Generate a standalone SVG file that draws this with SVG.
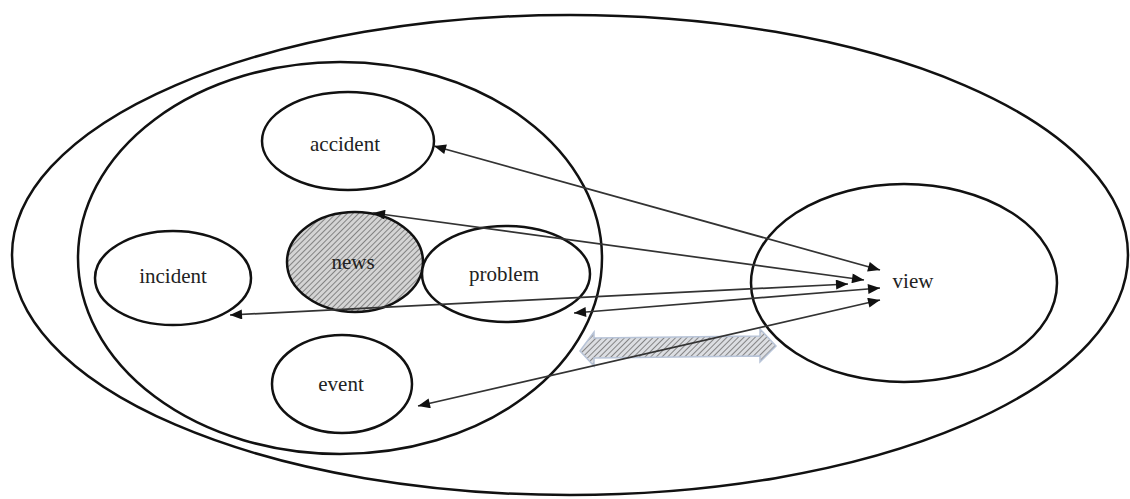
<svg xmlns="http://www.w3.org/2000/svg" width="1130" height="499" viewBox="0 0 1130 499">
<style>
.el{fill:none;stroke:#111;stroke-width:2.5}
.nd{fill:#fff;stroke:#111;stroke-width:2.5}
.lbl{font-family:"Liberation Serif","Times New Roman",serif;font-size:21px;fill:#222;text-anchor:middle}
.cn{stroke:#333;stroke-width:1.7;fill:none;marker-start:url(#ah);marker-end:url(#ah)}
</style>
<defs>
<pattern id="hatch" patternUnits="userSpaceOnUse" width="4" height="4" patternTransform="rotate(45)">
<rect width="4" height="4" fill="#d4d4d4"/>
<line x1="0" y1="0" x2="0" y2="4" stroke="#6e6e6e" stroke-width="1.6"/>
</pattern>
<pattern id="hatch2" patternUnits="userSpaceOnUse" width="4" height="4" patternTransform="rotate(45)">
<rect width="4" height="4" fill="#dcdee2"/>
<line x1="0" y1="0" x2="0" y2="4" stroke="#7a7a7a" stroke-width="1.8"/>
</pattern>
<marker id="ah" viewBox="0 0 12 10" refX="12" refY="5" markerWidth="13" markerHeight="10" markerUnits="userSpaceOnUse" orient="auto-start-reverse">
<path d="M0,0 L12,5 L0,10 Z" fill="#111"/>
</marker>
</defs>
<rect width="1130" height="499" fill="#fff"/>
<g id="outer"><ellipse class="el" cx="570" cy="255" rx="558" ry="240"/></g>
<g id="group"><ellipse class="el" cx="340" cy="258" rx="262" ry="196"/></g>
<g id="view"><ellipse class="nd" cx="904" cy="283" rx="153" ry="99"/><text class="lbl" x="913" y="288">view</text></g>
<g id="accident"><ellipse class="nd" cx="348" cy="141" rx="86" ry="49"/><text class="lbl" x="345" y="151">accident</text></g>
<g id="news"><ellipse cx="355" cy="262" rx="68" ry="50" fill="url(#hatch)" stroke="#111" stroke-width="2.5"/><text class="lbl" x="353" y="269">news</text></g>
<g id="problem"><ellipse class="nd" cx="506" cy="274" rx="84" ry="48"/><text class="lbl" x="504" y="281">problem</text></g>
<g id="incident"><ellipse class="nd" cx="173" cy="278" rx="78" ry="47"/><text class="lbl" x="173" y="283">incident</text></g>
<g id="event"><ellipse class="nd" cx="342" cy="384" rx="70" ry="49"/><text class="lbl" x="341" y="391">event</text></g>
<g id="double-arrow"><path d="M580,351 L594,332 L594,338 L760,336 L760,329 L776,346 L760,362 L760,356 L594,358 L594,366 Z" fill="url(#hatch2)" stroke="#b8c4d8" stroke-width="1.5"/></g>
<g id="connectors">
<line class="cn" x1="434" y1="146" x2="880" y2="270"/>
<line class="cn" x1="373" y1="213" x2="864" y2="280"/>
<line class="cn" x1="230" y1="315" x2="848" y2="284"/>
<line class="cn" x1="574" y1="313" x2="880" y2="288"/>
<line class="cn" x1="418" y1="406" x2="880" y2="300"/>
</g>
</svg>
